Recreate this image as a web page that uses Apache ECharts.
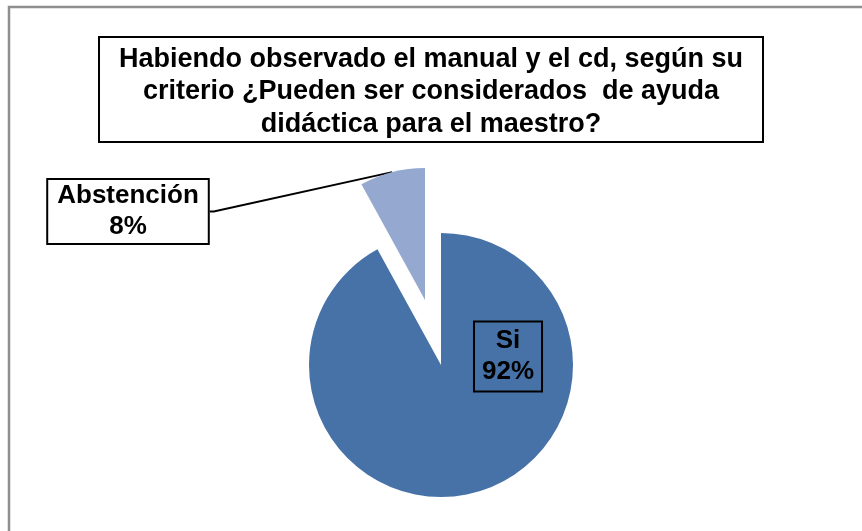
<!DOCTYPE html>
<html>
<head>
<meta charset="utf-8">
<script src="https://cdn.jsdelivr.net/npm/echarts@6/dist/echarts.min.js"></script>
<style>
  html, body { margin: 0; padding: 0; background: #fff; }
  #chart { width: 862px; height: 531px; }
</style>
</head>
<body>
<div id="chart"></div>
<script>
const titleText = 'Habiendo observado el manual y el cd, según su\ncriterio ¿Pueden ser considerados  de ayuda\ndidáctica para el maestro?'
const categories = ['Si', 'Abstención']
const values = [92, 8]
const colors = ['#4672A8', '#95A9D0']
// the slice that is pulled out of the pie
const explodedIndex = 1

const myChart = echarts.init(document.getElementById('chart'))
const fontFamily = '"Liberation Sans", Arial, sans-serif'

const labelStyle = {
  show: true,
  formatter: '{b}\n{d}%',
  fontFamily: fontFamily,
  fontSize: 26,
  fontWeight: 'bold',
  color: '#000',
  lineHeight: 31,
  borderColor: '#000',
  borderWidth: 2,
  align: 'center'
}

// one pie per layer: the body of the pie, and the exploded slice moved out
function buildData(layer) {
  return categories.map(function(name, i) {
    const visible = (i === explodedIndex) === (layer === 'exploded')
    return {
      name: name,
      value: values[i],
      itemStyle: { color: visible ? colors[i] : 'transparent' },
      label: visible ? {} : { show: false },
      labelLine: { show: visible && layer === 'exploded' }
    }
  })
}

const options = {
  animation: false,
  backgroundColor: '#fff',
  title: {
    text: titleText,
    left: 'center',
    top: 37,
    padding: [6, 20, 2, 20],
    borderColor: '#000',
    borderWidth: 2,
    backgroundColor: '#fff',
    textStyle: {
      fontFamily: fontFamily,
      fontSize: 27,
      fontWeight: 'bold',
      color: '#000',
      lineHeight: 32.5
    }
  },
  graphic: [
    {
      type: 'rect',
      z: -10,
      silent: true,
      shape: { x: 9, y: 7, width: 900, height: 600 },
      style: { fill: 'none', stroke: '#8f8f8f', lineWidth: 2.5 }
    }
  ],
  series: [
    {
      name: 'pie',
      type: 'pie',
      center: [441, 365],
      radius: 132,
      startAngle: 90,
      clockwise: true,
      silent: true,
      label: Object.assign({}, labelStyle, { position: 'inside', padding: [5, 8, 3, 8] }),
      labelLayout: { x: 508, y: 356.5, align: 'center', verticalAlign: 'middle' },
      data: buildData('body')
    },
    {
      name: 'exploded',
      type: 'pie',
      center: [425, 300],
      radius: 132,
      startAngle: 90,
      clockwise: true,
      silent: true,
      label: Object.assign({}, labelStyle, { backgroundColor: '#fff', padding: [1, 9, 0, 9] }),
      labelLine: {
        show: true,
        length: 10,
        length2: 4,
        lineStyle: { color: '#000', width: 2 }
      },
      labelLayout: { x: 128, y: 211.5, align: 'center', verticalAlign: 'middle' },
      data: buildData('exploded')
    }
  ]
}

myChart.setOption(options)
</script>
</body>
</html>
